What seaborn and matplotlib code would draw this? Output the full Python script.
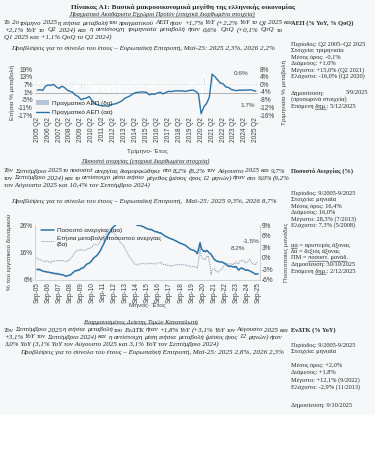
import numpy as np
import pandas as pd
import matplotlib
matplotlib.use("Agg")
import matplotlib.pyplot as plt
import seaborn as sns
from matplotlib.lines import Line2D
from matplotlib.patches import Patch, Rectangle
from matplotlib.ticker import FuncFormatter

# ==============================================================================
# 1. DATA
# ==============================================================================
# Real GDP, 2005 Q2 - 2025 Q2
gdp_quarters = [f"{y} Q{q}" for y in range(2005, 2026) for q in range(1, 5)][1:-2]
gdp_yoy = [
    2.5, 2.8, 2.2,
    5.5, 6.5, 6.2, 7.0,
    5.0, 3.8, 5.5, 4.5,
    2.5, 1.5, 0.8, -1.5,
    -2.5, -5.0, -4.2, -3.8,
    -2.5, -5.5, -8.0, -9.0,
    -9.5, -10.0, -9.8, -10.2,
    -9.0, -8.5, -8.0, -7.0,
    -6.0, -4.0, -3.0, -2.0,
    -0.5, 0.5, 0.8, 1.0,
    1.0, 0.7, -1.2, -0.5,
    -0.8, 0.2, 0.8, -0.5,
    0.5, 1.5, 1.3, 1.7,
    2.0, 1.8, 1.9, 1.5,
    1.8, 2.3, 2.5, 1.5,
    -0.5, -16.0, -10.5, -8.0,
    -3.0, 15.0, 13.0, 10.5,
    8.0, 7.5, 5.0, 4.5,
    3.0, 2.5, 2.0, 2.5,
    2.3, 2.6, 2.4, 2.8,
    2.2, 1.7,
]
gdp_qoq = [
    0.5, 1.2, 0.3,
    2.5, 1.8, 0.8, 1.5,
    0.8, 0.5, 2.0, 1.0,
    -0.5, 0.2, 0.1, -2.0,
    -0.8, -2.2, 0.5, -1.0,
    0.5, -3.0, -3.5, -2.8,
    -0.5, -3.2, -2.5, -4.0,
    -0.2, -2.2, -1.0, -3.5,
    0.5, -0.3, -0.8, -1.0,
    0.8, 0.6, 0.5, -0.5,
    0.4, 0.3, -1.5, 0.8,
    -0.8, 0.5, 0.7, -0.9,
    0.9, 0.8, 0.2, 0.7,
    0.3, 0.5, 0.4, 0.3,
    0.6, 1.0, 0.5, -0.2,
    -1.2, -14.0, 4.5, -1.0,
    4.0, 4.5, 2.5, 1.2,
    1.6, 0.8, 0.1, 1.2,
    0.4, 0.6, 0.3, 1.0,
    0.5, 0.9, 0.4, 0.7,
    0.1, 0.6,
]

# Unemployment rate, Sep-05 - Sep-25 (monthly)
months = pd.date_range("2005-09-01", "2025-09-01", freq="MS")
unemp = [
    9.8, 9.9, 9.7, 9.9,
    9.6, 9.5, 9.3, 9.2, 9.1, 9.0, 9.1, 8.9, 8.8, 8.9, 8.7, 8.6,
    8.7, 8.5, 8.4, 8.5, 8.3, 8.2, 8.4, 8.2, 8.1, 8.0, 8.1, 7.9,
    7.9, 7.8, 7.6, 7.5, 7.3, 7.5, 7.6, 7.8, 7.8, 8.0, 8.3, 8.6,
    8.9, 9.2, 9.4, 9.3, 9.5, 9.7, 9.6, 9.9, 10.2, 10.3, 10.4, 10.6,
    11.0, 11.4, 11.7, 11.9, 12.0, 12.2, 12.5, 12.8, 13.2, 13.8, 14.1, 14.4,
    14.6, 14.9, 15.3, 15.8, 16.2, 16.8, 17.5, 18.2, 18.8, 19.5, 20.3, 21.0,
    21.7, 22.3, 22.8, 23.3, 23.8, 24.4, 24.9, 25.3, 25.6, 25.9, 26.3, 26.6,
    26.9, 27.1, 27.3, 27.5, 27.7, 28.0, 28.3, 28.1, 27.9, 27.8, 27.7, 27.5,
    27.4, 27.3, 27.1, 26.9, 26.8, 26.7, 26.6, 26.4, 26.1, 25.9, 25.8, 25.9,
    25.8, 25.7, 25.6, 25.4, 25.3, 25.1, 24.9, 24.8, 24.6, 24.5, 24.4, 24.3,
    24.4, 24.2, 24.0, 23.8, 23.6, 23.5, 23.6, 23.4, 23.2, 23.1, 23.2, 22.9,
    22.7, 22.5, 22.2, 22.0, 21.8, 21.6, 21.5, 21.3, 21.2, 21.0, 20.9, 20.8,
    20.7, 20.5, 20.3, 20.2, 20.0, 19.8, 19.6, 19.5, 19.3, 19.2, 19.1, 18.9,
    18.8, 18.6, 18.4, 18.1, 17.8, 17.6, 17.3, 17.1, 17.0, 16.9, 16.8, 16.6,
    16.4, 16.1, 15.6, 16.8, 18.2, 19.6, 18.0, 17.2, 16.8, 16.4, 16.6, 16.3,
    16.8, 16.5, 16.2, 15.8, 15.6, 15.4, 14.7, 14.2, 13.7, 13.4, 13.1, 12.8,
    12.9, 12.7, 12.6, 12.5, 12.6, 12.5, 12.3, 12.1, 12.0, 11.8, 11.4, 11.2,
    11.0, 10.9, 11.1, 11.0, 10.8, 10.7, 10.9, 10.6, 10.9, 10.5, 9.9, 9.6,
    10.0, 10.2, 10.4, 10.1, 10.1, 9.9, 9.6, 9.5, 9.7, 9.6, 9.4, 9.3,
    9.1, 8.9, 8.8, 8.6, 8.3, 8.1, 8.2, 8.2, 8.2,
]
unemp_yoy = [
    0.1, -0.2, -0.4, -0.3,
    -0.5, -0.7, -0.8, -0.9, -0.8, -0.9, -0.7, -0.9, -1.0, -1.0, -1.2, -1.3,
    -0.9, -1.0, -0.9, -0.7, -0.8, -0.8, -0.7, -0.7, -0.7, -0.9, -0.6, -0.7,
    -0.8, -0.7, -0.8, -1.0, -1.0, -0.7, -0.8, -0.4, -0.3, 0.0, 0.2, 0.7,
    1.0, 1.4, 1.8, 1.8, 2.2, 2.2, 2.0, 2.1, 2.4, 2.3, 2.1, 2.0,
    2.1, 2.2, 2.3, 2.6, 2.5, 2.5, 2.9, 2.9, 3.0, 3.5, 3.7, 3.8,
    3.6, 3.5, 3.6, 3.9, 4.2, 4.6, 5.0, 5.4, 5.6, 5.7, 6.2, 6.6,
    6.9, 7.4, 7.6, 7.8, 7.9, 7.8, 7.5, 7.1, 6.8, 6.4, 6.0, 5.6,
    5.2, 4.8, 4.5, 4.2, 3.9, 3.6, 3.4, 2.8, 2.3, 1.9, 1.4, 0.9,
    0.5, 0.2, -0.2, -0.6, -0.9, -1.3, -1.7, -1.7, -1.8, -1.9, -1.9, -1.6,
    -1.6, -1.6, -1.5, -1.5, -1.5, -1.6, -1.7, -1.6, -1.5, -1.4, -1.4, -1.6,
    -1.4, -1.5, -1.6, -1.6, -1.7, -1.6, -1.3, -1.4, -1.4, -1.4, -1.2, -1.4,
    -1.7, -1.7, -1.8, -1.8, -1.8, -1.9, -2.1, -2.1, -2.0, -2.1, -2.3, -2.1,
    -2.0, -2.0, -1.9, -1.8, -1.8, -1.8, -1.9, -1.8, -1.9, -1.8, -1.8, -1.9,
    -1.9, -1.9, -1.9, -2.1, -2.2, -2.2, -2.3, -2.4, -2.3, -2.3, -2.3, -2.3,
    -2.4, -2.5, -2.8, -1.3, 0.4, 3.5, 0.7, 0.1, -0.2, -0.5, -0.2, -0.3,
    0.4, 0.4, 0.6, -1.0, -2.6, -4.5, -3.3, -3.0, -3.1, -3.0, -3.5, -3.5,
    -3.9, -3.8, -3.6, -3.3, -3.0, -2.9, -2.4, -2.1, -1.7, -1.6, -1.7, -1.6,
    -1.9, -1.8, -1.5, -1.5, -1.8, -1.8, -1.4, -1.5, -1.1, -1.3, -1.5, -1.6,
    -1.0, -0.7, -0.7, -0.9, -0.7, -0.8, -1.3, -1.1, -1.2, -0.9, -0.5, -0.3,
    -0.9, -1.3, -1.6, -1.5, -1.8, -1.8, -1.4, -1.3, -1.5,
]
month_labels = [d.strftime("%b-%y") for d in months]

# ==============================================================================
# 2. PAGE SET-UP
# ==============================================================================
W, H = 375, 451
sns.set_theme(style="white")
plt.rcParams["font.family"] = ["Liberation Serif", "DejaVu Serif"]

fig = plt.figure(figsize=(W / 100, H / 100), dpi=100, facecolor="white")
fig.add_artist(Rectangle((0, 1 - 415 / H), 1, 415 / H, transform=fig.transFigure,
                         facecolor="#f6f7f9", edgecolor="none", zorder=-10))
renderer = fig.canvas.get_renderer()

TXT = "#262626"
PARA = dict(fontsize=5.0, style="italic", color=TXT)
FCST = dict(fontsize=5.1, style="italic", color=TXT)
SIDE = dict(fontsize=4.6, color=TXT)
TICK = "#404040"
SANS = "Liberation Sans"
LINE_BLUE = "#2b73a6"
DOT_COL = "#8092a8"
BAR_COL = "#b7c4d6"


def put(x, y, s, **kw):
    kw.setdefault("va", "center")
    return fig.text(x / W, 1 - y / H, s, **kw)


def text_width(s, **kw):
    t = put(0, 0, s, **kw)
    w = t.get_window_extent(renderer).width
    t.remove()
    return w


def underline(t, color=TXT):
    bb = t.get_window_extent(renderer)
    yy = (bb.y0 + 0.3) / H
    fig.add_artist(Line2D([bb.x0 / W, bb.x1 / W], [yy, yy], lw=0.35, color=color,
                          transform=fig.transFigure))


def squiggle(x, y, prefix, word, color="#d83a3a", **kw):
    # spell-check style wavy underline under one word of a side note
    x0 = x + (text_width(prefix, **kw) if prefix else 0)
    x1 = x0 + text_width(word, **kw)
    xs = np.arange(x0, x1 + 0.01, 0.8)
    ys = y + 3.0 + 0.45 * (np.arange(len(xs)) % 2)
    fig.add_artist(Line2D(xs / W, 1 - ys / H, lw=0.35, color=color,
                          transform=fig.transFigure))


def justify(line, y, x0=4, x1=283, **kw):
    words = line.split()
    widths = [text_width(w, **kw) for w in words]
    gap = max((x1 - x0 - sum(widths)) / (len(words) - 1), 1.2)
    x = x0
    for w, wd in zip(words, widths):
        put(x, y, w, **kw)
        x += wd + gap


def paragraph(lines, y0, step=7.0):
    for i, ln in enumerate(lines):
        if i < len(lines) - 1:
            justify(ln, y0 + i * step, **PARA)
        else:
            put(4, y0 + i * step, ln, **PARA)


def side_block(items, x=291):
    for y, s, kw in items:
        put(x, y, s, **{**SIDE, **kw})


pct = FuncFormatter(lambda v, _: f"{v:.0f}%")

# ==============================================================================
# 3. SECTION 1: GDP
# ==============================================================================
put(183, 7, "Πίνακας Α1: Βασικά μακροοικονομικά μεγέθη της ελληνικής οικονομίας",
    ha="center", fontsize=5.2, weight="bold", color=TXT)
t = put(162, 14, "Πραγματικό Ακαθάριστο Εγχώριο Προϊόν (εποχικά διορθωμένα στοιχεία)",
        ha="center", fontsize=4.6, style="italic", color=TXT)
underline(t)
paragraph([
    "Το 2ο τρίμηνο 2025 η ετήσια μεταβολή του πραγματικού ΑΕΠ ήταν +1,7% YoY (+2,2% YoY το Q1 2025 και",
    "+2,1% YoY το Q2 2024) και η αντίστοιχη τριμηνιαία μεταβολή ήταν 0,6% QoQ (+0,1% QoQ το",
    "Q1 2025 και +1,1% QoQ το Q2 2024)",
], 23)
put(143, 48, "Προβλέψεις για το σύνολο του έτους – Ευρωπαϊκή Επιτροπή, Μαϊ-25: 2025 2,3%, 2026 2,2%",
    ha="center", **FCST)

side_block([
    (23, "ΑΕΠ (% YoY, % QoQ)", dict(weight="bold")),
    (44, "Περίοδος: Q2 2005–Q2 2025", {}),
    (50.5, "Στοιχεία: τριμηνιαία", {}),
    (57, "Μέσος όρος: -0,1%", {}),
    (63.5, "Διάμεσος: +1,0%", {}),
    (70, "Μέγιστο: +15,0% (Q2 2021)", {}),
    (76.5, "Ελάχιστο: -16,0% (Q2 2020)", {}),
    (93, "Δημοσίευση:", {}),
    (99.5, "(προσωρινά στοιχεία)", {}),
    (106, "Επόμενη δημ.: 5/12/2025", {}),
])
put(368, 93, "5/9/2025", ha="right", **SIDE)
squiggle(291, 106, "Επόμενη ", "δημ.", **SIDE)

ax1 = fig.add_axes([35 / W, 1 - 115 / H, 223 / W, 46 / H])
ax1r = ax1.twinx()
idx_q = np.arange(len(gdp_quarters))
sns.barplot(x=idx_q, y=gdp_qoq, ax=ax1r, native_scale=True, color=BAR_COL,
            width=0.45, saturation=1)
sns.lineplot(x=idx_q, y=gdp_yoy, ax=ax1, color=LINE_BLUE, lw=1.0)
ax1.set_zorder(ax1r.get_zorder() + 1)
ax1.patch.set_visible(False)

ax1.set_xlim(-0.8, len(gdp_quarters) - 0.2)
ax1.set_ylim(-17, 19)
ax1.set_yticks(np.arange(-17, 20, 6))
ax1r.set_ylim(-16, 8)
ax1r.set_yticks(np.arange(-16, 9, 4))
ax1.axhline(0, color="#a6a6a6", lw=0.6, zorder=0)
ax1r.axhline(0, color="#bfbfbf", lw=0.5, ls=":")
ax1.set_xticks(idx_q[::4])
ax1.set_xticklabels(gdp_quarters[::4], rotation=90)

# ==============================================================================
# 4. SECTION 2: UNEMPLOYMENT
# ==============================================================================
t = put(145, 161, "Ποσοστό ανεργίας (εποχικά διορθωμένα στοιχεία)", ha="center",
        fontsize=4.7, style="italic", color=TXT)
underline(t)
paragraph([
    "Τον Σεπτέμβριο 2025 το ποσοστό ανεργίας διαμορφώθηκε στο 8,2% (8,2% τον Αύγουστο 2025 και 9,7%",
    "τον Σεπτέμβριο 2024) και το αντίστοιχο μέσο ετήσιο μέγεθος (μέσος όρος 12 μηνών) ήταν στο 9,0% (9,2%",
    "τον Αύγουστο 2025 και 10,4% τον Σεπτέμβριο 2024)",
], 171)
put(144, 201, "Προβλέψεις για το σύνολο του έτους – Ευρωπαϊκή Επιτροπή,  Μαϊ-25: 2025 9,3%, 2026 8,7%",
    ha="center", **FCST)

side_block([
    (171, "Ποσοστό Ανεργίας (%)", dict(weight="bold")),
    (193, "Περίοδος: 9/2005-9/2025", {}),
    (199.5, "Στοιχεία: μηνιαία", {}),
    (206, "Μέσος όρος: 16,4%", {}),
    (212.5, "Διάμεσος: 16,0%", {}),
    (219, "Μέγιστο: 28,3% (7/2013)", {}),
    (225.5, "Ελάχιστο: 7,3% (5/2008)", {}),
    (245, "αα = αριστερός άξονας", {}),
    (251.5, "δα = δεξιός άξονας", {}),
    (258, "ΠΜ = ποσοστ. μονάδ.", {}),
    (264.5, "Δημοσίευση: 30/10/2025", {}),
    (271, "Επόμενη δημ.: 2/12/2025", {}),
])
squiggle(291, 245, "", "αα", **SIDE)
squiggle(291, 258, "ΠΜ = ", "ποσοστ.", **SIDE)
squiggle(291, 258, "ΠΜ = ποσοστ. ", "μονάδ.", **SIDE)
squiggle(291, 271, "Επόμενη ", "δημ.", **SIDE)

ax2 = fig.add_axes([35 / W, 1 - 280 / H, 225 / W, 55 / H])
ax2r = ax2.twinx()
idx_m = np.arange(len(months))
sns.lineplot(x=idx_m, y=unemp_yoy, ax=ax2r, color=DOT_COL, lw=0.7, ls=(0, (1, 1)))
sns.lineplot(x=idx_m, y=unemp, ax=ax2, color=LINE_BLUE, lw=1.1)
ax2.set_zorder(ax2r.get_zorder() + 1)
ax2.patch.set_visible(False)
ax2.set_xlim(-2, len(months) + 1)
ax2.set_ylim(6, 26)
ax2.set_yticks([6, 16, 26])
ax2r.set_ylim(-6, 9)
ax2r.set_yticks(np.arange(-6, 10, 3))
ax2.set_xticks(idx_m[::12])
ax2.set_xticklabels(month_labels[::12], rotation=90)
ax2.legend(handles=[Line2D([], [], color=LINE_BLUE, lw=1.1),
                    Line2D([], [], color=DOT_COL, lw=0.7, ls=(0, (1, 1)))],
           labels=["Ποσοστό ανεργίας (αα)", "Ετήσια μεταβολή ποσοστού ανεργίας\n(δα)"],
           loc="upper left", bbox_to_anchor=(0.0, 1.05), frameon=False,
           prop={"family": SANS, "size": 4.6}, handlelength=2.0,
           handletextpad=0.5, labelspacing=0.3)

# ==============================================================================
# 5. SECTION 3: HICP (text only)
# ==============================================================================
t = put(141, 322, "Εναρμονισμένος Δείκτης Τιμών Καταναλωτή", ha="center",
        fontsize=4.7, style="italic", color=TXT)
underline(t)
paragraph([
    "Τον Σεπτέμβριο 2025 η ετήσια μεταβολή του ΕνΔΤΚ ήταν +1,8% YoY (+3,1% YoY τον Αύγουστο 2025 και",
    "+3,1% YoY τον Σεπτέμβριο 2024) και η αντίστοιχη μέση ετήσια μεταβολή (μέσος όρος 12 μηνών) ήταν",
    "3,0% YoY (3,1% YoY τον Αύγουστο 2025 και 3,1% YoY τον Σεπτέμβριο 2024)",
], 330)
put(152, 352, "Προβλέψεις για το σύνολο του έτους – Ευρωπαϊκή Επιτροπή, Μαϊ-25: 2025 2,8%, 2026 2,3%",
    ha="center", **FCST)

side_block([
    (330, "ΕνΔΤΚ (% YoY)", dict(weight="bold")),
    (345, "Περίοδος: 9/2005-9/2025", {}),
    (351.5, "Στοιχεία: μηνιαία", {}),
    (365, "Μέσος όρος: +2,0%", {}),
    (372.5, "Διάμεσος: +1,8%", {}),
    (380, "Μέγιστο: +12,1% (9/2022)", {}),
    (387.5, "Ελάχιστο: -2,9% (11/2013)", {}),
    (405, "Δημοσίευση: 9/10/2025", {}),
])

# ==============================================================================
# 6. COMMON AXIS STYLING
# ==============================================================================
for a in (ax1, ax1r, ax2, ax2r):
    a.yaxis.set_major_formatter(pct)
    a.tick_params(axis="both", labelsize=4.7, labelcolor=TICK, length=0, pad=1.5)
    for lab in a.get_xticklabels() + a.get_yticklabels():
        lab.set_family(SANS)
    for s in a.spines.values():
        s.set_visible(False)
    a.set_xlabel("")
    a.set_ylabel("")
for a in (ax1r, ax2r):
    a.tick_params(axis="x", labelbottom=False)
for s in ("left", "bottom", "right"):
    ax2.spines[s].set_visible(True)
    ax2.spines[s].set_color("#bfbfbf")
    ax2.spines[s].set_linewidth(0.5)

note = dict(fontsize=4.6, color=TICK, family=SANS)
ax1.text(0.89, 0.88, "0.6%", transform=ax1.transAxes, **note)
ax1.text(0.92, 0.18, "1.7%", transform=ax1.transAxes, **note)
ax2.text(0.87, 0.55, "8.2%", transform=ax2.transAxes, **note)
ax2.text(0.925, 0.68, "-1.5%", transform=ax2.transAxes, **note)

ax1.legend(handles=[Patch(facecolor=BAR_COL, edgecolor="none"),
                    Line2D([], [], color=LINE_BLUE, lw=1.0)],
           labels=["Πραγματικό ΑΕΠ (δα)", "Πραγματικό ΑΕΠ (αα)"],
           loc="lower left", bbox_to_anchor=(-0.02, -0.13), frameon=False,
           prop={"family": SANS, "size": 4.6}, handlelength=2.0,
           handletextpad=0.5, labelspacing=0.6)

axis_lab = dict(fontsize=4.6, color=TICK, family=SANS, rotation=90, ha="center")
put(12, 92, "Ετήσια % μεταβολή", **axis_lab)
put(284, 92, "Τριμηνιαία % μεταβολή", **axis_lab)
put(147, 152, "Τρίμηνο- Έτος", ha="center", fontsize=4.6, color=TICK, family=SANS)
put(10, 252, "% του εργατικού δυναμικού", **axis_lab)
put(286, 252, "Ποσοστιαίες μονάδες", **axis_lab)
put(147, 305, "Μήνας- Έτος", ha="center", fontsize=4.6, color=TICK, family=SANS)

fig.savefig("out.png", dpi=100, facecolor=fig.get_facecolor())
